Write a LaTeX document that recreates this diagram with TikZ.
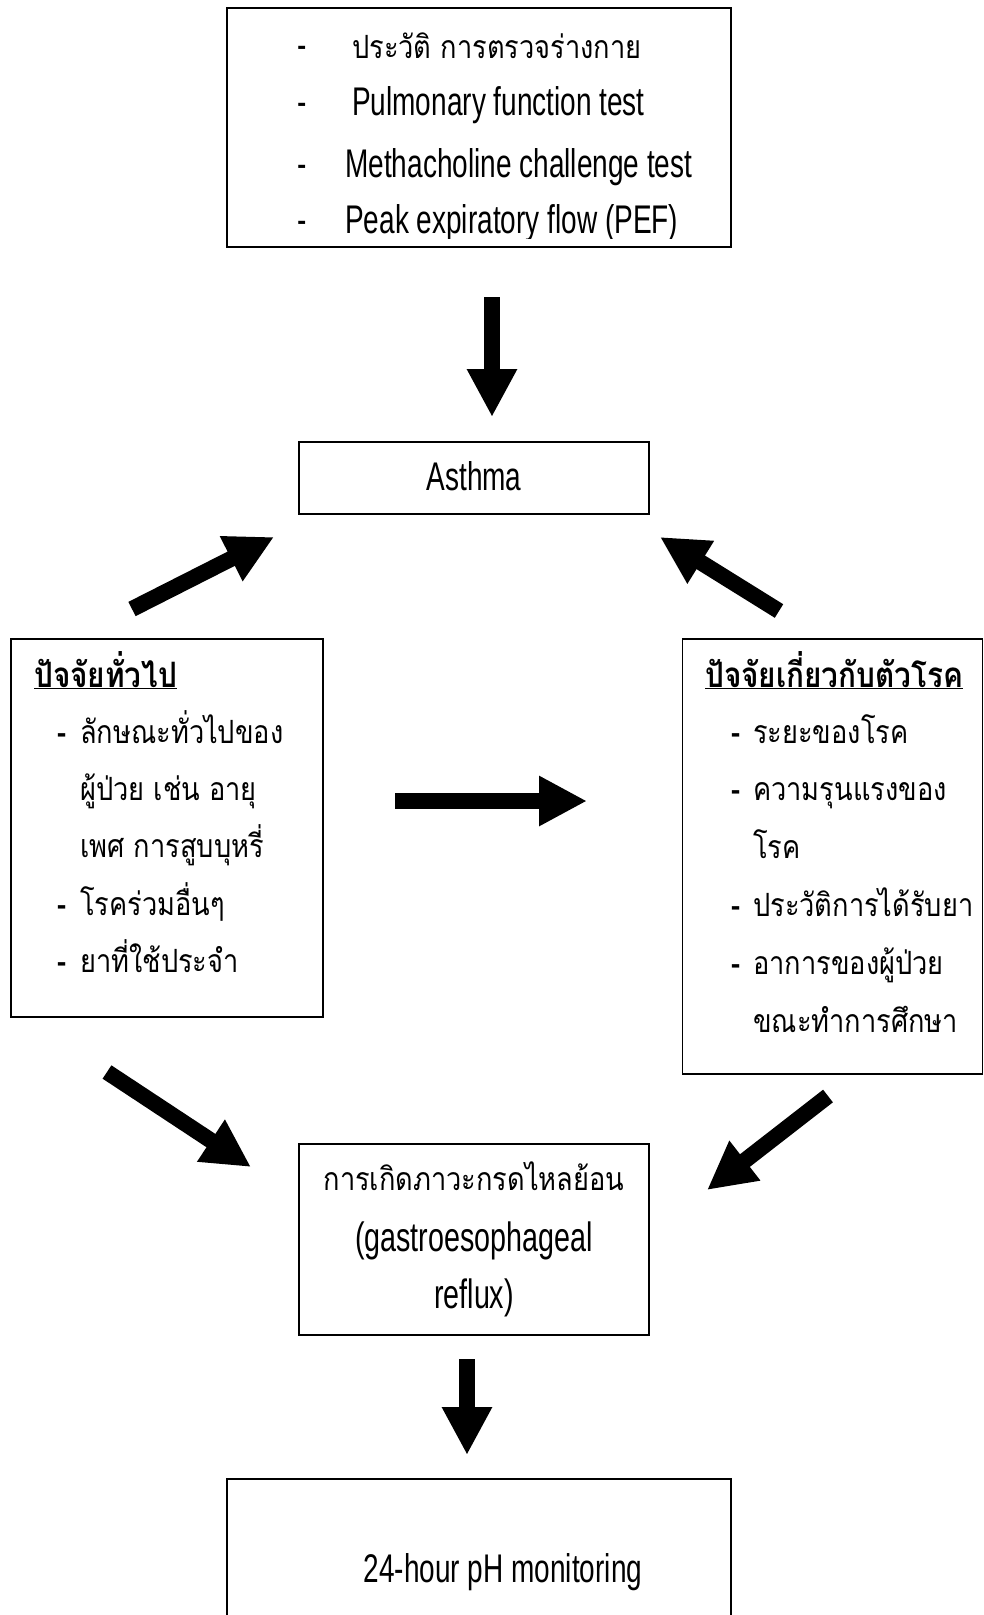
\documentclass[tikz,border=0pt]{standalone}
\usepackage{fontspec}
\setmainfont[FakeStretch=0.70]{Liberation Sans}
\newfontfamily\thaifnt[Script=Thai,FakeStretch=0.85]{Loma}
\usetikzlibrary{arrows.meta}
\newcommand\ensz{\fontsize{40pt}{44pt}\selectfont}
\newcommand\gersz{\fontsize{41pt}{44pt}\selectfont}
\newcommand\thsz{\thaifnt\fontsize{32pt}{36pt}\selectfont}
\newcommand\thhd{\thaifnt\fontsize{35pt}{38pt}\selectfont\bfseries}
\begin{document}
\begin{tikzpicture}[x=1pt,y=-1pt,
  boxst/.style={draw=black,line width=1.6pt,inner sep=0pt,fill=white},
  txt/.style={inner sep=0pt,anchor=base west},
  fat/.style={line width=16pt,-{Triangle[length=48pt,width=47pt]}}]
\useasboundingbox (0,0) rectangle (984,1615);
\fill[white] (0,0) rectangle (984,1615);
% boxes
\node[boxst,minimum width=504pt,minimum height=239pt] (topbox) at (479,127.5) {};
\node[boxst,minimum width=350pt,minimum height=72pt] (asthma) at (474,478) {};
\node[boxst,minimum width=312pt,minimum height=378pt] (lbox) at (167,828) {};
\node[boxst,minimum width=300pt,minimum height=435pt] (rbox) at (832.5,856.5) {};
\node[boxst,minimum width=350pt,minimum height=191pt] (ger) at (474,1239.5) {};
\node[boxst,minimum width=504pt,minimum height=160pt] (bot) at (479,1559) {};
% top box text
\node[txt] (t1d) at (297,58) {\ensz -};
\node[txt] (t1) at (352,58) {\thsz ประวัติ การตรวจร่างกาย};
\node[txt] (t2d) at (297,115) {\ensz -};
\node[txt] (t2) at (352,115) {\ensz Pulmonary function test};
\node[txt] (t3d) at (297,177) {\ensz -};
\node[txt] (t3) at (345,177) {\ensz Methacholine challenge test};
\begin{scope}
\clip (227,8) rectangle (731,238);
\node[txt] (t4d) at (297,233) {\ensz -};
\node[txt] (t4) at (345,233) {\ensz Peak expiratory flow (PEF)};
\end{scope}
% asthma
\node[inner sep=0pt,anchor=base] (asthmat) at (474,490) {\ensz Asthma};
% left box
\node[txt] (lh) at (34,687) {\thhd\underline{ปัจจัยทั่วไป}};
\node[txt] (l1d) at (57,743) {\thsz\bfseries -};
\node[txt] (l1) at (80,743) {\thsz ลักษณะทั่วไปของ};
\node[txt] (l2) at (80,800) {\thsz ผู้ป่วย เช่น อายุ};
\node[txt] (l3) at (80,857) {\thsz เพศ การสูบบุหรี่};
\node[txt] (l4d) at (57,915) {\thsz\bfseries -};
\node[txt] (l4) at (80,915) {\thsz โรคร่วมอื่นๆ};
\node[txt] (l5d) at (57,972) {\thsz\bfseries -};
\node[txt] (l5) at (80,972) {\thsz ยาที่ใช้ประจำ};
% right box
\node[txt] (rh) at (705,687) {\thhd\underline{ปัจจัยเกี่ยวกับตัวโรค}};
\node[txt] (r1d) at (731,743) {\thsz\bfseries -};
\node[txt] (r1) at (753,743) {\thsz ระยะของโรค};
\node[txt] (r2d) at (731,800) {\thsz\bfseries -};
\node[txt] (r2) at (753,800) {\thsz ความรุนแรงของ};
\node[txt] (r3) at (753,858) {\thsz โรค};
\node[txt] (r4d) at (731,916) {\thsz\bfseries -};
\node[txt] (r4) at (753,916) {\thsz ประวัติการได้รับยา};
\node[txt] (r5d) at (731,974) {\thsz\bfseries -};
\node[txt] (r5) at (753,974) {\thsz อาการของผู้ป่วย};
\node[txt] (r6) at (753,1032) {\thsz ขณะทำการศึกษา};
% GER box
\node[inner sep=0pt,anchor=base] (g1) at (474,1190) {\thsz การเกิดภาวะกรดไหลย้อน};
\node[inner sep=0pt,anchor=base] (g2) at (474,1251) {\gersz (gastroesophageal};
\node[inner sep=0pt,anchor=base] (g3) at (474,1308) {\gersz reflux)};
% bottom box
\node[inner sep=0pt,anchor=base] (bt) at (503,1582) {\ensz 24-hour pH monitoring};
% arrows
\coordinate (a1s) at (492,297); \coordinate (a1e) at (492,417);
\coordinate (a2s) at (132,609); \coordinate (a2e) at (274,537);
\coordinate (a3s) at (779,611); \coordinate (a3e) at (660,537);
\coordinate (a4s) at (395,801); \coordinate (a4e) at (587,801);
\coordinate (a5s) at (107,1072); \coordinate (a5e) at (251,1167);
\coordinate (a6s) at (828,1096); \coordinate (a6e) at (707,1190);
\coordinate (a7s) at (467,1359); \coordinate (a7e) at (467,1455);
\draw[fat] (a1s) -- (a1e);
\draw[fat] (a2s) -- (a2e);
\draw[fat] (a3s) -- (a3e);
\draw[fat] (a4s) -- (a4e);
\draw[fat] (a5s) -- (a5e);
\draw[fat] (a6s) -- (a6e);
\draw[fat] (a7s) -- (a7e);
\end{tikzpicture}
\end{document}
